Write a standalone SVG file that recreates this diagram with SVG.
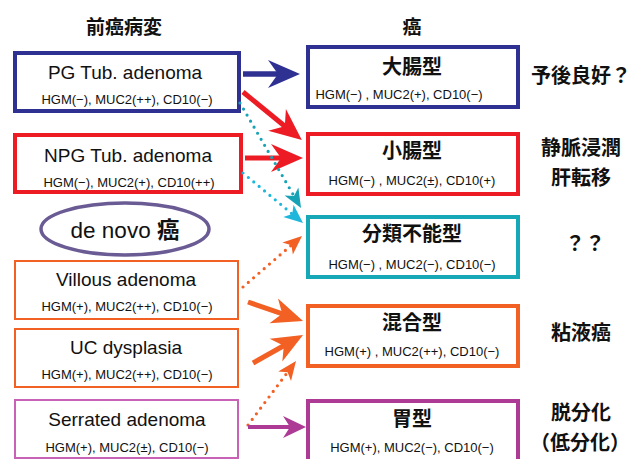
<svg xmlns="http://www.w3.org/2000/svg" width="634" height="459" viewBox="0 0 634 459">
  <style>
    text { font-family: "Liberation Sans", "Noto Sans CJK JP", sans-serif; fill: #111; text-anchor: middle; }
    .hd { font-family: "Noto Sans CJK JP", sans-serif; font-size: 19px; font-weight: 700; }
    .ttl { font-size: 19px; }
    .ja { font-family: "Noto Sans CJK JP", sans-serif; font-size: 20px; font-weight: 700; }
    .sub { font-size: 13px; }
    .box { fill: #fff; }
    .thick { stroke-width: 4; }
    .thin { stroke-width: 2; }
    .blue { stroke: #2e3192; }
    .red { stroke: #ed1c24; }
    .teal { stroke: #17a8b8; }
    .orange { stroke: #f26024; }
    .magenta { stroke: #ad3a95; }
    .magenta-lt { stroke: #c862b6; }
    .solid { fill: none; stroke-linecap: butt; }
    .dots { fill: none; stroke-width: 3.2; stroke-linecap: round; stroke-dasharray: 0 7; }
  </style>
  <defs>
    <marker id="head-blue" markerUnits="userSpaceOnUse" orient="auto" overflow="visible" markerWidth="1" markerHeight="1">
      <path d="M14,0 L-18,-14 L-8,0 L-18,14 Z" fill="#2e3192"/>
    </marker>
    <marker id="head-red" markerUnits="userSpaceOnUse" orient="auto" overflow="visible" markerWidth="1" markerHeight="1">
      <path d="M14,0 L-18,-14 L-8,0 L-18,14 Z" fill="#ed1c24"/>
    </marker>
    <marker id="head-orange" markerUnits="userSpaceOnUse" orient="auto" overflow="visible" markerWidth="1" markerHeight="1">
      <path d="M14,0 L-17,-13 L-8,0 L-17,13 Z" fill="#f26024"/>
    </marker>
    <marker id="head-magenta" markerUnits="userSpaceOnUse" orient="auto" overflow="visible" markerWidth="1" markerHeight="1">
      <path d="M10,0 L-13,-11 L-6,0 L-13,11 Z" fill="#ad3a95"/>
    </marker>
    <marker id="head-teal" markerUnits="userSpaceOnUse" orient="auto" overflow="visible" markerWidth="1" markerHeight="1">
      <path d="M9,0 L-10,-8 L-5,0 L-10,8 Z" fill="#17a3b5"/>
    </marker>
    <marker id="head-cyan" markerUnits="userSpaceOnUse" orient="auto" overflow="visible" markerWidth="1" markerHeight="1">
      <path d="M9,0 L-10,-8 L-5,0 L-10,8 Z" fill="#1fb6dc"/>
    </marker>
    <marker id="head-orange-sm" markerUnits="userSpaceOnUse" orient="auto" overflow="visible" markerWidth="1" markerHeight="1">
      <path d="M9,0 L-10,-8 L-5,0 L-10,8 Z" fill="#f26024"/>
    </marker>
  </defs>

  <rect width="634" height="459" fill="#fff"/>

  <!-- column headings -->
  <text class="hd" x="124" y="34">前癌病変</text>
  <text class="hd" x="412" y="34">癌</text>

  <!-- precursor lesions -->
  <g id="pg-tub-adenoma">
    <rect class="box thick blue" x="15" y="53" width="224" height="58"/>
    <text class="ttl" x="125" y="79">PG Tub. adenoma</text>
    <text class="sub" x="127" y="104">HGM(−), MUC2(++), CD10(−)</text>
  </g>
  <g id="npg-tub-adenoma">
    <rect class="box thick red" x="15" y="135" width="226" height="57"/>
    <text class="ttl" x="128" y="162">NPG Tub. adenoma</text>
    <text class="sub" x="129" y="187">HGM(−), MUC2(+), CD10(++)</text>
  </g>
  <g id="de-novo">
    <ellipse cx="125" cy="229" rx="84" ry="26" fill="#fff" stroke="#6a5b94" stroke-width="3.5"/>
    <text x="125" y="238" font-size="22.5">de novo <tspan font-family="Noto Sans CJK JP, sans-serif" font-weight="700">癌</tspan></text>
  </g>
  <g id="villous-adenoma">
    <rect class="box thin orange" x="15" y="261" width="223" height="58"/>
    <text class="ttl" x="126" y="286">Villous adenoma</text>
    <text class="sub" x="127" y="311">HGM(+), MUC2(++), CD10(−)</text>
  </g>
  <g id="uc-dysplasia">
    <rect class="box thin orange" x="15" y="329" width="223" height="58"/>
    <text class="ttl" x="126" y="354">UC dysplasia</text>
    <text class="sub" x="127" y="379">HGM(+), MUC2(++), CD10(−)</text>
  </g>
  <g id="serrated-adenoma">
    <rect class="box thin magenta-lt" x="15" y="400" width="223" height="58"/>
    <text class="ttl" x="127" y="426">Serrated adenoma</text>
    <text class="sub" x="127" y="452">HGM(+), MUC2(±), CD10(−)</text>
  </g>

  <!-- carcinoma types -->
  <g id="colonic-type">
    <rect class="box thick blue" x="308" y="47" width="210" height="60"/>
    <text class="ja" x="412" y="74">大腸型</text>
    <text class="sub" x="399" y="99">HGM(−) , MUC2(+), CD10(−)</text>
  </g>
  <g id="small-intestinal-type">
    <rect class="box thick red" x="308" y="134" width="210" height="60"/>
    <text class="ja" x="412" y="158">小腸型</text>
    <text class="sub" x="412" y="185">HGM(−) , MUC2(±), CD10(+)</text>
  </g>
  <g id="unclassified-type">
    <rect class="box thick teal" x="308" y="217" width="210" height="60"/>
    <text class="ja" x="412" y="241">分類不能型</text>
    <text class="sub" x="412" y="269">HGM(−) , MUC2(−), CD10(−)</text>
  </g>
  <g id="mixed-type">
    <rect class="box thick orange" x="308" y="306" width="210" height="60"/>
    <text class="ja" x="412" y="330">混合型</text>
    <text class="sub" x="412" y="356">HGM(+) , MUC2(++), CD10(−)</text>
  </g>
  <g id="gastric-type">
    <rect class="box thick magenta" x="308" y="401" width="210" height="70"/>
    <text class="ja" x="412" y="426">胃型</text>
    <text class="sub" x="412" y="452">HGM(+), MUC2(−), CD10(−)</text>
  </g>

  <!-- clinical notes -->
  <g id="notes">
    <text class="ja" x="581" y="83">予後良好？</text>
    <text class="ja" x="581" y="155">静脈浸潤</text>
    <text class="ja" x="581" y="185">肝転移</text>
    <text class="ja" x="585" y="251">？？</text>
    <text class="ja" x="581" y="340">粘液癌</text>
    <text class="ja" x="581" y="420">脱分化</text>
    <text class="ja" x="580" y="450">（低分化）</text>
  </g>

  <!-- connectors -->
  <g id="connectors">
    <line class="solid blue" stroke-width="5.5" x1="243" y1="74" x2="286" y2="74" marker-end="url(#head-blue)"/>
    <line class="solid red" stroke-width="5" x1="243" y1="92" x2="291" y2="131.2" marker-end="url(#head-red)"/>
    <line class="solid red" stroke-width="5" x1="245" y1="158" x2="289" y2="158" marker-end="url(#head-red)"/>
    <line class="dots" stroke="#17a3b5" x1="240" y1="103" x2="296.5" y2="200.2" marker-end="url(#head-teal)"/>
    <line class="dots" stroke="#1fb6dc" x1="243" y1="173" x2="296.1" y2="217.2" marker-end="url(#head-cyan)"/>
    <line class="dots orange" x1="243" y1="287" x2="295.2" y2="241.9" marker-end="url(#head-orange-sm)"/>
    <line class="solid orange" stroke-width="5" x1="248" y1="302" x2="289.8" y2="316.4" marker-end="url(#head-orange)"/>
    <line class="solid orange" stroke-width="5" x1="253" y1="363" x2="290.8" y2="341.8" marker-end="url(#head-orange)"/>
    <line class="dots orange" x1="248" y1="425" x2="290.6" y2="368.2" marker-end="url(#head-orange-sm)"/>
    <line class="solid magenta" stroke-width="4" x1="248" y1="427" x2="296" y2="427" marker-end="url(#head-magenta)"/>
  </g>
</svg>
